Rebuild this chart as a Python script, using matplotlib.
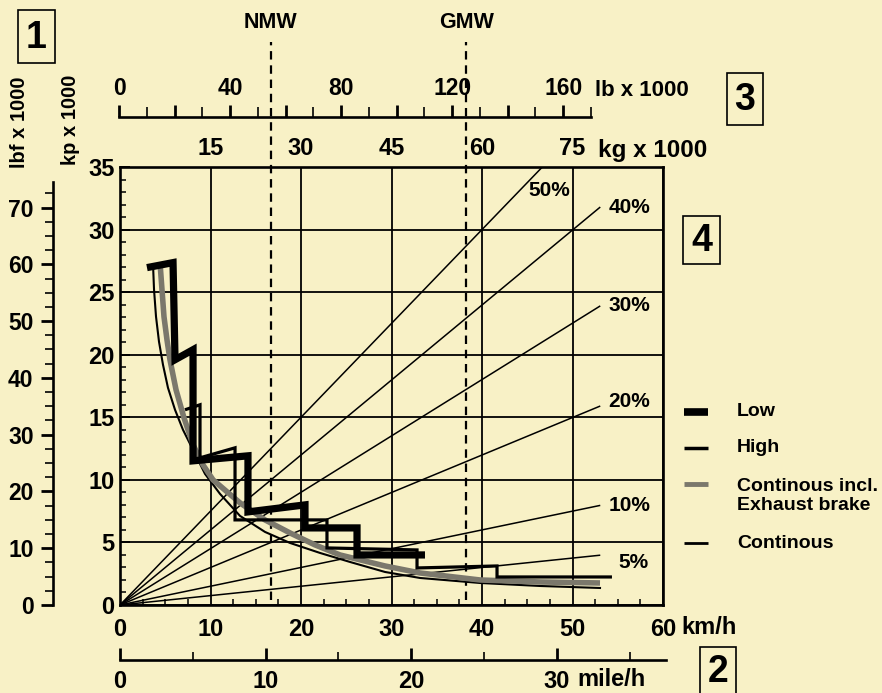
import matplotlib
matplotlib.use('Agg')
import matplotlib.pyplot as plt
from matplotlib import font_manager
from matplotlib.patches import Rectangle
from matplotlib.lines import Line2D
from matplotlib.ticker import FixedLocator
import matplotlib.transforms as mtrans

# ---------------- data ----------------
speed_kmh_ticks = [0, 10, 20, 30, 40, 50, 60]
speed_kmh_minor = [2.5, 5, 7.5, 12.5, 15, 17.5, 22.5, 25, 27.5, 32.5, 35, 37.5,
                   42.5, 45, 47.5, 52.5, 55, 57.5]
speed_mph_ticks = [0, 10, 20, 30]
speed_mph_minor = [5, 15, 25, 35]
force_kp_ticks = [0, 5, 10, 15, 20, 25, 30, 35]
force_lbf_ticks = [0, 10, 20, 30, 40, 50, 60, 70]
weight_kg_ticks = [15, 30, 45, 60, 75]
weight_lb_major = [0, 20, 40, 60, 80, 100, 120, 140, 160]
weight_lb_minor = [10, 30, 50, 70, 90, 110, 130, 150, 170]
weight_lb_labels = [0, 40, 80, 120, 160]

gradient_labels = ['5%', '10%', '20%', '30%', '40%', '50%']
gradient_end_weight_kg = [79.6, 79.6, 79.6, 79.6, 79.6, 70.0]
gradient_end_force_kp = [3.98, 7.96, 15.9, 23.9, 31.8, 35.0]

nmw_kg = 25.0
gmw_kg = 57.4

low_speed = [2.98, 5.86, 6.08, 8.07, 8.07, 14.14, 14.14, 20.44, 20.44, 26.19, 26.19, 33.7]
low_force = [26.96, 27.36, 19.6, 20.4, 11.52, 11.92, 7.44, 8.0, 6.16, 6.16, 4.0, 4.0]

high_speed = [7.18, 8.84, 8.84, 12.71, 12.71, 22.87, 22.87, 32.82, 32.82, 41.66, 41.66, 54.36]
high_force = [15.6, 16.0, 11.76, 12.56, 6.8, 6.8, 4.56, 4.4, 2.96, 3.12, 2.24, 2.24]

exhaust_speed = [4.42, 4.64, 4.86, 5.19, 5.52, 6.19, 7.07, 8.07, 9.17, 10.28, 13.26,
                 16.02, 18.78, 21.55, 24.31, 29.28, 33.15, 39.78, 46.41, 53.04]
exhaust_force = [27.36, 25.2, 23.04, 21.2, 19.6, 17.2, 14.96, 12.8, 11.2, 10.0, 8.16,
                 6.8, 5.76, 4.8, 4.0, 3.12, 2.56, 2.0, 1.84, 1.76]

cont_speed = [3.65, 3.76, 3.98, 4.31, 4.75, 5.30, 6.08, 6.96, 8.07, 9.39, 11.05, 13.26,
              16.02, 18.78, 22.10, 25.41, 29.28, 33.15, 39.78, 46.41, 53.04]
cont_force = [27.2, 25.2, 23.04, 21.04, 19.2, 17.36, 15.6, 14.0, 12.4, 10.48, 8.88, 7.12,
              5.84, 4.96, 4.16, 3.44, 2.64, 2.16, 1.76, 1.52, 1.36]

legend_labels = ['Low', 'High', 'Continous incl.\nExhaust brake', 'Continous']

# ---------------- style ----------------
W, H = 882, 693
BG = '#f8f1c6'
GREY = '#7b786c'
names = {f.name for f in font_manager.fontManager.ttflist}
SANS = 'Liberation Sans'
NARROW = 'Liberation Sans Narrow' if 'Liberation Sans Narrow' in names else SANS
plt.rcParams['font.family'] = [SANS, 'DejaVu Sans']
plt.rcParams['font.weight'] = 'bold'

fig = plt.figure(figsize=(W / 100, H / 100), dpi=100, facecolor=BG)


def frect(x0, y0, x1, y1):
    return [x0 / W, 1 - y1 / H, (x1 - x0) / W, (y1 - y0) / H]


def ftext(x, y, s, **kw):
    kw.setdefault('fontweight', 'bold')
    fig.text(x / W, 1 - y / H, s, **kw)


# ---- weight (kg) axes: gradient lines + NMW / GMW ----
ax_kg = fig.add_axes(frect(120, 167, 663, 605), zorder=1)
ax_kg.set_facecolor(BG)
ax_kg.set_xlim(0, 90)
ax_kg.set_ylim(0, 35)
for s in ax_kg.spines.values():
    s.set_visible(False)
ax_kg.tick_params(axis='y', left=False, labelleft=False)
ax_kg.xaxis.set_ticks_position('top')
ax_kg.set_xticks(weight_kg_ticks)
ax_kg.set_xticklabels([str(v) for v in weight_kg_ticks], fontsize=17, fontweight='bold')
ax_kg.tick_params(axis='x', which='both', length=0, pad=5)

for w_end, f_end in zip(gradient_end_weight_kg, gradient_end_force_kp):
    ax_kg.plot([0, w_end], [0, f_end], color='black', lw=1.1, solid_capstyle='butt')

lab_offsets = [(13, -5), (6, 0), (6, 3), (6, 0), (6, 0), (-10, -17)]
for lab, w_end, f_end, off in zip(gradient_labels, gradient_end_weight_kg,
                                   gradient_end_force_kp, lab_offsets):
    ax_kg.annotate(lab, (w_end, f_end), xytext=off, textcoords='offset points',
                   ha='left', va='center', fontsize=15, fontweight='bold',
                   annotation_clip=False)

trans = mtrans.blended_transform_factory(ax_kg.transData, ax_kg.transAxes)
for w, lab in [(nmw_kg, 'NMW'), (gmw_kg, 'GMW')]:
    ax_kg.plot([w, w], [0.012, 1.285], transform=trans, clip_on=False,
               color='black', lw=1.6, dashes=(3.8, 2.6))
    ax_kg.text(w, 1.331, lab, transform=trans, ha='center', va='center',
               fontsize=15.5, fontweight='bold')

# ---- main axes: speed km/h vs force kp ----
ax = fig.add_axes(frect(120, 167, 663, 605), zorder=2)
ax.patch.set_visible(False)
ax.set_xlim(0, 60)
ax.set_ylim(0, 35)
for s in ax.spines.values():
    s.set_linewidth(1.9)
ax.xaxis.set_major_locator(FixedLocator(speed_kmh_ticks))
ax.xaxis.set_minor_locator(FixedLocator(speed_kmh_minor))
ax.set_xticklabels([str(v) for v in speed_kmh_ticks], fontsize=17,
                   fontweight='bold', family=NARROW)
ax.yaxis.set_major_locator(FixedLocator(force_kp_ticks))
ax.yaxis.set_minor_locator(FixedLocator(range(0, 36)))
ax.set_yticklabels([str(v) for v in force_kp_ticks], fontsize=17, fontweight='bold')
ax.tick_params(axis='x', which='major', length=0, pad=9)
ax.tick_params(axis='x', which='minor', direction='in', length=4, width=1.1)
ax.tick_params(axis='y', which='major', direction='in', length=7, width=1.4, pad=4)
ax.tick_params(axis='y', which='minor', direction='in', length=4.5, width=1.1)
ax.grid(True, which='major', color='black', lw=1.3)
ax.set_axisbelow(True)

ax.plot(cont_speed, cont_force, color='black', lw=1.5, zorder=3)
ax.plot(exhaust_speed, exhaust_force, color=GREY, lw=4.0, zorder=4, solid_capstyle='butt')
ax.plot(high_speed, high_force, color='black', lw=2.3, zorder=5,
        solid_joinstyle='miter', solid_capstyle='butt')
ax.plot(low_speed, low_force, color='black', lw=5.2, zorder=6,
        solid_joinstyle='miter', solid_capstyle='butt')

ftext(681, 627, 'km/h', ha='left', va='center', fontsize=17, family=NARROW)

# ---- lbf axis ----
ax_lbf = fig.add_axes(frect(53, 182, 60, 605))
ax_lbf.patch.set_visible(False)
ax_lbf.set_ylim(0, 74.5)
for k, s in ax_lbf.spines.items():
    s.set_visible(k == 'left')
ax_lbf.spines['left'].set_linewidth(1.9)
ax_lbf.set_xticks([])
ax_lbf.yaxis.set_major_locator(FixedLocator(force_lbf_ticks))
ax_lbf.yaxis.set_minor_locator(FixedLocator([v * 2.5 for v in range(0, 30)]))
ax_lbf.set_yticklabels([str(v) for v in force_lbf_ticks], fontsize=16.5, fontweight='bold')
ax_lbf.tick_params(axis='y', which='major', direction='out', length=9, width=2.0, pad=5)
ax_lbf.tick_params(axis='y', which='minor', direction='out', length=5.5, width=1.2)

ftext(20, 122, 'lbf x 1000', rotation=90, ha='center', va='center', fontsize=14.5)
ftext(70, 120, 'kp x 1000', rotation=90, ha='center', va='center', fontsize=14.5)

# ---- lb axis (top) ----
ax_lb = fig.add_axes(frect(119, 117, 591, 140))
ax_lb.patch.set_visible(False)
ax_lb.set_xlim(0, 170)
for k, s in ax_lb.spines.items():
    s.set_visible(k == 'top')
ax_lb.spines['top'].set_linewidth(1.9)
ax_lb.set_yticks([])
ax_lb.xaxis.set_ticks_position('top')
ax_lb.xaxis.set_major_locator(FixedLocator(weight_lb_major))
ax_lb.xaxis.set_minor_locator(FixedLocator(weight_lb_minor))
ax_lb.set_xticklabels([str(v) if v in weight_lb_labels else '' for v in weight_lb_major],
                      fontsize=16.5, fontweight='bold')
ax_lb.tick_params(axis='x', which='major', direction='out', length=8.5, width=2.0, pad=4)
ax_lb.tick_params(axis='x', which='minor', direction='out', length=7, width=1.2)
ftext(595, 90, 'lb x 1000', ha='left', va='center', fontsize=16)
ftext(598, 150, 'kg x 1000', ha='left', va='center', fontsize=17.5)

# ---- mile/h axis (bottom) ----
ax_mi = fig.add_axes(frect(120, 640, 666, 660))
ax_mi.patch.set_visible(False)
ax_mi.set_xlim(0, 37.5)
for k, s in ax_mi.spines.items():
    s.set_visible(k == 'bottom')
ax_mi.spines['bottom'].set_linewidth(1.9)
ax_mi.set_yticks([])
ax_mi.xaxis.set_major_locator(FixedLocator(speed_mph_ticks))
ax_mi.xaxis.set_minor_locator(FixedLocator(speed_mph_minor))
ax_mi.set_xticklabels([str(v) for v in speed_mph_ticks], fontsize=17,
                      fontweight='bold', family=NARROW)
ax_mi.tick_params(axis='x', which='major', direction='in', length=9, width=2.0, pad=7)
ax_mi.tick_params(axis='x', which='minor', direction='in', length=6, width=1.2)
ftext(577, 679, 'mile/h', ha='left', va='center', fontsize=17, family=NARROW)

# ---- boxed numbers ----
for (x0, y0, x1, y1, s) in [(18, 10, 55, 63, '1'), (700, 647, 736, 700, '2'),
                            (727, 73, 763, 125, '3'), (683, 216, 720, 264, '4')]:
    r = Rectangle((x0 / W, 1 - y1 / H), (x1 - x0) / W, (y1 - y0) / H,
                  transform=fig.transFigure, fill=False, lw=1.2, ec='black')
    fig.add_artist(r)
    ftext((x0 + x1) / 2, (y0 + y1 + 2) / 2 if y1 < 693 else 672, s,
          ha='center', va='center', fontsize=27)

# ---- legend ----
legend_y = [412, 448, 484, 543]
legend_lw = [5.5, 2.5, 3.5, 2.0]
legend_col = ['black', 'black', GREY, 'black']
for y, lw, c in zip(legend_y, legend_lw, legend_col):
    fig.add_artist(Line2D([684 / W, 708 / W], [1 - y / H] * 2, color=c, lw=lw,
                          transform=fig.transFigure, solid_capstyle='butt'))
for y, lab in zip([412, 448, 496, 543], legend_labels):
    ftext(737, y, lab, ha='left', va='center', fontsize=14, linespacing=1.2)

fig.savefig('out.png', dpi=100, facecolor=BG)
